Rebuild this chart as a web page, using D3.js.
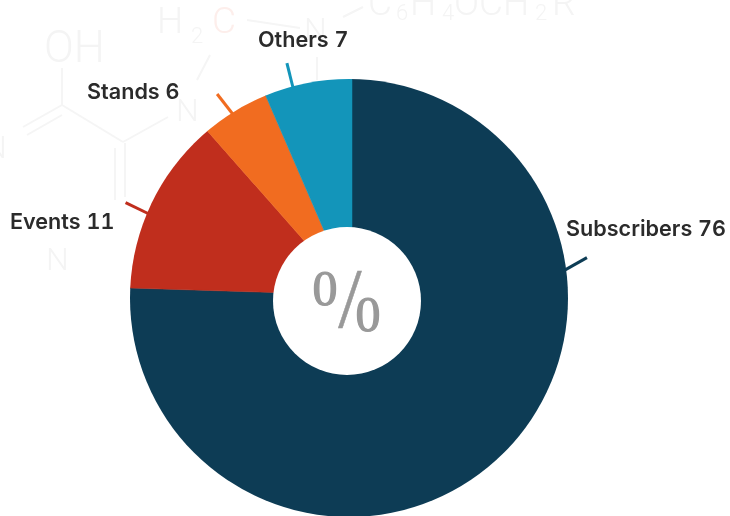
<!DOCTYPE html>
<html>
<head>
<meta charset="utf-8">
<script src="https://cdn.jsdelivr.net/npm/d3@7"></script>
<style>
  html, body { margin: 0; padding: 0; background: #fff; }
  svg { display: block; }
</style>
</head>
<body>
<div id="chart"></div>
<script>
// ===================================================================

const WIDTH = 730
const HEIGHT = 516

// Printed label values, and the share each slice really covers in the picture
const categories = ['Subscribers', 'Events', 'Stands', 'Others']
const labelValues = [76, 11, 6, 7]
const sliceShares = [75.5, 13, 5, 6.5]
const colors = ['#0d3c55', '#c02e1d', '#f16c20', '#1395ba']

// Faint molecule behind the chart
const wmTexts = [
  ['OH', 44, 62, 44], ['H', 157, 33, 37], ['2', 191, 43, 22], ['C', 212, 33, 37],
  ['N', 304, 40, 32], ['N', 176, 121, 32], ['N', -16, 158, 32], ['N', 46, 270, 32],
  ['C', 368, 15, 37], ['6', 396, 20, 22], ['H', 410, 15, 37], ['4', 442, 20, 22],
  ['OCH', 454, 15, 37], ['2', 535, 20, 22], ['R', 552, 15, 37]
]
const wmBonds = [
  [62, 68, 62, 105], [62, 105, 23, 127], [62, 115, 27, 135], [62, 105, 123, 142],
  [123, 142, 168, 117], [115, 148, 115, 200], [125, 143, 125, 197], [210, 55, 197, 80],
  [247, 20, 300, 28], [317, 57, 317, 80], [343, 17, 363, 7]
]

// ===================================================================

const OUTER = { x: 349, y: 298, r: 219 }
const APEX = { x: 352, y: 295 }
const HOLE = { x: 347, y: 301, r: 74 }

// leader: where it leaves the circle and which way it points, degrees from 12 o'clock
const leaderFrom = [82.6, -67.2, -32.3, -14.9]
const leaderDir = [60.5, -64, -38, -14]
const LEADER_LENGTH = 25

const labelPos = [[566, 236], [10, 229], [87, 99], [258, 47]]

// ===================================================================

const rad = d => d * Math.PI / 180

const svg = d3.select('#chart').append('svg')
  .attr('width', WIDTH)
  .attr('height', HEIGHT)
  .style('filter', 'blur(0.4px)')

svg.append('rect')
  .attr('width', '100%')
  .attr('height', '100%')
  .attr('fill', 'white')

const wm = svg.append('g')

wm.selectAll('line')
  .data(wmBonds)
  .join('line')
    .attr('x1', d => d[0])
    .attr('y1', d => d[1])
    .attr('x2', d => d[2])
    .attr('y2', d => d[3])
    .attr('stroke', '#f5f5f5')
    .attr('stroke-width', 2)

wm.selectAll('text')
  .data(wmTexts)
  .join('text')
    .attr('x', d => d[1])
    .attr('y', d => d[2])
    .attr('font-family', 'Roboto, sans-serif')
    .attr('font-weight', 300)
    .attr('font-size', d => d[3])
    .attr('fill', d => d[0] === 'C' && d[1] < 300 ? '#fdeeeb' : '#f4f4f4')
    .text(d => d[0])

// slices meet off-centre in the source, so the circle is a clip around them
svg.append('clipPath')
  .attr('id', 'disc')
  .append('circle')
    .attr('cx', OUTER.x)
    .attr('cy', OUTER.y)
    .attr('r', OUTER.r)

const pie = d3.pie().sort(null)
const arc = d3.arc().innerRadius(0).outerRadius(OUTER.r + 20)

svg.append('g')
  .attr('clip-path', 'url(#disc)')
  .append('g')
    .attr('transform', `translate(${APEX.x}, ${APEX.y})`)
    .selectAll('path')
    .data(pie(sliceShares))
    .join('path')
      .attr('d', arc)
      .attr('fill', (d, i) => colors[i])
      .attr('stroke', (d, i) => colors[i])
      .attr('stroke-width', 0.5)

svg.append('circle')
  .attr('cx', HOLE.x)
  .attr('cy', HOLE.y)
  .attr('r', HOLE.r)
  .attr('fill', 'white')

const hole = svg.append('g')
  .attr('font-family', '"Liberation Serif", serif')
  .attr('fill', '#999')
  .attr('stroke', '#999')
  .attr('text-anchor', 'middle')

hole.append('text').attr('x', 325).attr('y', 305).attr('font-size', 50).attr('stroke-width', 1.2).text('0')
hole.append('text').attr('x', 350).attr('y', 327).attr('font-size', 84).attr('stroke-width', 0.5).text('/')
hole.append('text').attr('x', 368).attr('y', 331).attr('font-size', 50).attr('stroke-width', 1.2).text('0')

svg.append('g')
  .selectAll('line')
  .data(categories)
  .join('line')
    .each(function (d, i) {
      const [x0, y0] = d3.pointRadial(rad(leaderFrom[i]), OUTER.r - 1)
      const [dx, dy] = d3.pointRadial(rad(leaderDir[i]), LEADER_LENGTH)
      d3.select(this)
        .attr('x1', OUTER.x + x0)
        .attr('y1', OUTER.y + y0)
        .attr('x2', OUTER.x + x0 + dx)
        .attr('y2', OUTER.y + y0 + dy)
    })
    .attr('stroke', (d, i) => colors[i])
    .attr('stroke-width', 3)

svg.append('g')
  .selectAll('text')
  .data(categories)
  .join('text')
    .attr('x', (d, i) => labelPos[i][0])
    .attr('y', (d, i) => labelPos[i][1])
    .attr('font-family', 'Inter, sans-serif')
    .attr('font-weight', 600)
    .attr('font-size', 21.6)
    .style('font-variant-numeric', 'tabular-nums')
    .attr('fill', '#2b2b2b')
    .text((d, i) => `${d} ${labelValues[i]}`)
</script>
</body>
</html>
